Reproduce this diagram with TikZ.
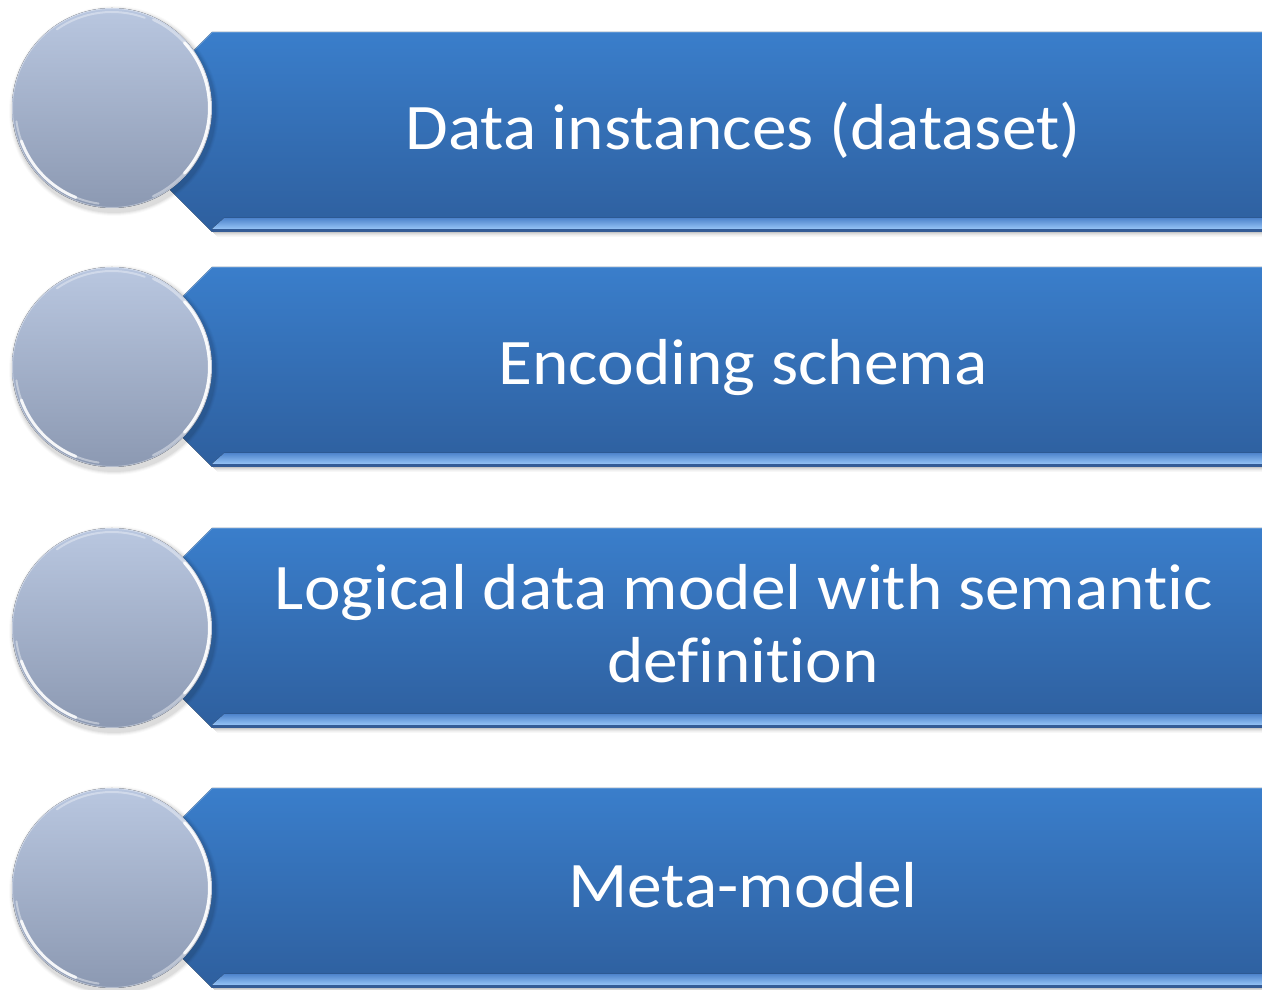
\documentclass[tikz,border=0pt]{standalone}
\usepackage{fontspec}
\setmainfont{Carlito}[FakeStretch=1.067,RawFeature={-liga;-clig;-dlig;-calt;-hlig}]
\definecolor{bandtop}{RGB}{58,126,203}
\definecolor{bandbot}{RGB}{46,95,158}
\definecolor{bevtop}{RGB}{78,132,204}
\definecolor{bevbot}{RGB}{150,196,246}
\definecolor{bevline}{RGB}{52,92,150}
\definecolor{disctop}{RGB}{185,199,224}
\definecolor{discbot}{RGB}{140,153,178}
\begin{document}
\begin{tikzpicture}[x=1pt,y=1pt,
  band/.style={top color=bandtop,bottom color=bandbot,draw=none},
  bevel/.style={top color=bevtop,bottom color=bevbot,draw=none},
  disc/.style={top color=disctop,bottom color=discbot,draw=none},
  rim/.style={white,line cap=round},
  caption/.style={text=white,font=\fontsize{65}{78}\selectfont,anchor=base,align=center,inner sep=0pt}]
\useasboundingbox (0,0) rectangle (1262,990);
\fill[white] (0,0) rectangle (1262,990);

% four banners, each with a disc on its left end
\foreach \t/\cy in {958/882,723/623,462/362,202/102}{
  \pgfmathsetmacro\b{\t-200}
  % soft shadow under the banner
  \foreach \k/\o in {1/0.22,2/0.15,3/0.10,4/0.06,5/0.03}{
    \fill[black,opacity=\o] (212+\k,\b-\k+1) rectangle (1262,\b-\k);
  }
  % banner body with chamfered left end
  \fill[band] (212,\t) -- (1262,\t) -- (1262,\b) -- (212,\b)
    -- (167,\b+45) -- (167,\t-45) -- cycle;
  % light edge along the upper chamfer
  \draw[white,opacity=0.25,line width=1.5] (167,\t-45) -- (212,\t) -- (1262,\t);
  % bevelled lower edge
  \fill[bevel] (224,\b+14) -- (1262,\b+14) -- (1262,\b+3) -- (212,\b+3) -- cycle;
  \fill[bevline] (212,\b+3) -- (1262,\b+3) -- (1262,\b) -- (212,\b) -- cycle;
  % disc shadow
  \foreach \r/\o in {105/0.02,104/0.03,103/0.04,102/0.05}{
    \fill[black,opacity=\o] (114,\cy-3) circle (\r);
  }
  % disc
  \fill[disc] (112,\cy) circle (100);
  \draw[white,opacity=0.35,line width=1] (112,\cy) circle (99.5);
  % glossy rim highlights
  \draw[rim,line width=2.5,opacity=0.4] (112,\cy) ++(65:97.5) arc (65:-65:97.5);
  \draw[rim,line width=3,opacity=0.9] (112,\cy) ++(42:97.5) arc (42:-42:97.5);
  \draw[rim,line width=2,opacity=0.4] (112,\cy) ++(188:96.5) arc (188:262:96.5);
  \draw[rim,line width=3,opacity=0.85] (112,\cy) ++(200:96.5) arc (200:248:96.5);
  \draw[rim,line width=2,opacity=0.35] (112,\cy) ++(70:96) arc (70:125:96);
}

% captions
\node[caption] (t1) at (743,840) {Data instances (dataset)};
\node[caption] (t2) at (743,605) {Encoding schema};
\node[caption] (t3a) at (744,380) {Logical data model with semantic};
\node[caption] (t3b) at (743,307) {definition};
\node[caption] (t4) at (743,82) {Meta-model};
\end{tikzpicture}
\end{document}
